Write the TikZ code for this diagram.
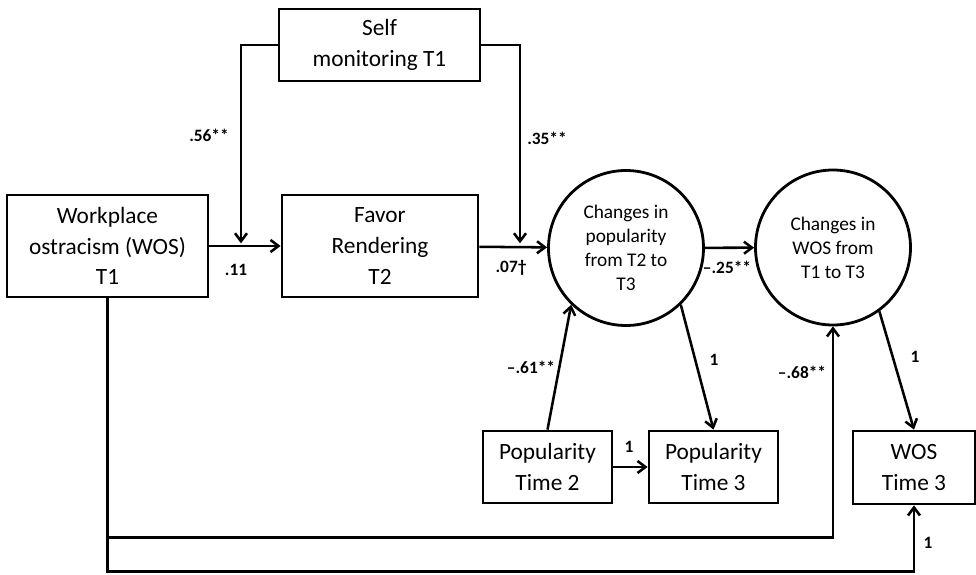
\documentclass[tikz,border=0pt]{standalone}
\usepackage{fontspec}
\setmainfont{Carlito}
\usetikzlibrary{positioning,arrows.meta}

\begin{document}
\begin{tikzpicture}[
  x=0.75pt,y=-0.75pt,
  varbox/.style={draw=black,line width=2.1pt,align=center,inner sep=0pt,font=\fontsize{17.5}{23}\selectfont},
  latent/.style={draw=black,circle,line width=2.1pt,align=center,inner sep=0pt,minimum size=155*0.75pt,font=\fontsize{14.5}{18}\selectfont},
  coef/.style={font=\bfseries\fontsize{13}{15}\selectfont,inner sep=1pt},
  arrow/.style={-{Straight Barb[length=6pt,width=9pt,line width=1.9pt]},line width=1.9pt},
  path/.style={line width=1.9pt}
]
\useasboundingbox (0,0) rectangle (976,575);
% boxes and circles
\node[varbox,minimum width=201*0.75pt,minimum height=102*0.75pt] (wos) at (107.5,246) {Workplace\\ostracism (WOS)\\T1};
\node[varbox,minimum width=196*0.75pt,minimum height=102*0.75pt] (favor) at (380,246) {Favor\\Rendering\\T2};
\node[varbox,minimum width=201*0.75pt,minimum height=72*0.75pt] (self) at (379.5,45) {Self\\monitoring T1};
\node[latent] (chpop) at (626,248) {Changes in\\popularity\\from T2 to\\T3};
\node[latent] (chwos) at (833,247.5) {Changes in\\WOS from\\T1 to T3};
\node[varbox,minimum width=129*0.75pt,minimum height=72*0.75pt] (pop2) at (547.5,467) {Popularity\\Time 2};
\node[varbox,minimum width=129*0.75pt,minimum height=72*0.75pt] (pop3) at (713.5,467) {Popularity\\Time 3};
\node[varbox,minimum width=122*0.75pt,minimum height=73*0.75pt] (wost3) at (914,467.5) {WOS\\Time 3};

% moderation points
\coordinate (mod1) at (241,246);
\coordinate (mod2) at (520,246);

% paths
\draw[arrow] (wos) -- (favor);
\draw[arrow] (favor) -- (chpop);
\draw[arrow] (chpop) -- (chwos);
\draw[arrow,shorten >=2pt] (self.west) -| (mod1);
\draw[arrow,shorten >=2pt] (self.east) -| (mod2);
\draw[arrow] (pop2.north) -- (chpop.-134);
\draw[arrow] (chpop.-46) -- (pop3.north);
\draw[arrow] (pop2) -- (pop3);
\draw[arrow] (chwos.-54) -- (wost3.north);
\draw[arrow] (wos.south) -- ++(0,239) -| (chwos.south);
\draw[arrow] (wos.south) -- ++(0,273) -| (wost3.south);

% coefficients
\node[coef] (c56) at (209,135) {.56**};
\node[coef] (c35) at (547,138) {.35**};
\node[coef] (c11) at (236,270) {.11};
\node[coef] (c07) at (511,268) {.07†};
\node[coef] (c25) at (727,267) {–.25**};
\node[coef] (c61) at (531,367) {–.61**};
\node[coef] (c1a) at (714,360) {1};
\node[coef] (c1b) at (629,447) {1};
\node[coef] (c68) at (802,372) {–.68**};
\node[coef] (c1c) at (915,357) {1};
\node[coef] (c1d) at (928,543) {1};
\end{tikzpicture}
\end{document}
